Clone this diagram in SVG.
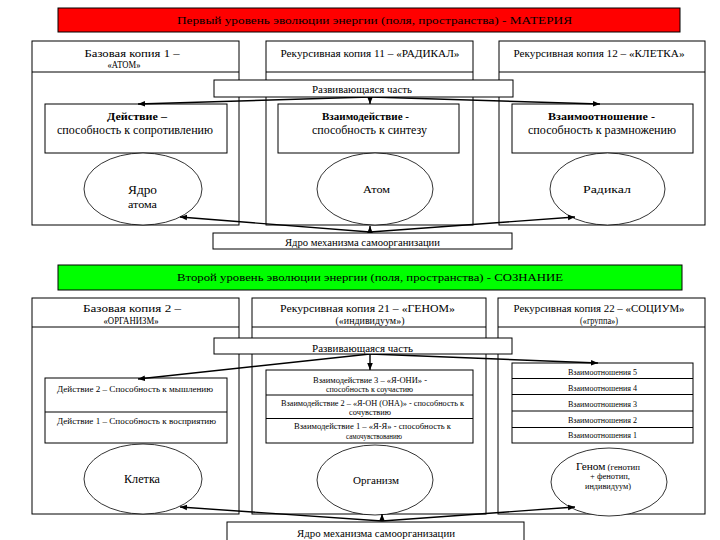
<svg xmlns="http://www.w3.org/2000/svg" width="720" height="540" viewBox="0 0 720 540">
<defs>
<marker id="ah" viewBox="0 0 10 10" refX="10" refY="5" markerWidth="7" markerHeight="7" orient="auto" markerUnits="userSpaceOnUse"><path d="M0,1 L10,5 L0,9 z" fill="#000"/></marker>
<style>
.bx{fill:#fff;stroke:#000;stroke-width:1}
.ln{fill:none;stroke:#000;stroke-width:1}
.el{fill:#fff;stroke:#000;stroke-width:0.8}
.t{font-family:"Liberation Serif","Times New Roman",serif;fill:#000;text-anchor:middle}
.b{font-weight:bold}
.cn{fill:none;stroke:#000;stroke-width:1.4}
</style>
</defs>
<rect width="720" height="540" fill="#fff"/>

<!-- Level 1 -->
<g id="title1">
<rect x="58" y="8" width="622" height="24" fill="#ff0000" stroke="#000" stroke-width="1"/>
<text class="t" x="374.5" y="24" font-size="11" textLength="395" lengthAdjust="spacingAndGlyphs">Первый уровень эволюции энергии (поля, пространства) - МАТЕРИЯ</text>
</g>
<g id="copy1">
<rect class="bx" x="32" y="41" width="207" height="184"/>
<line class="ln" x1="32" y1="72" x2="239" y2="72"/>
<text class="t" x="132" y="57" font-size="10" textLength="95" lengthAdjust="spacingAndGlyphs">Базовая копия 1 –</text>
<text class="t" x="124" y="68" font-size="10" textLength="33" lengthAdjust="spacingAndGlyphs">«АТОМ»</text>
</g>
<g id="copy11">
<rect class="bx" x="266" y="41" width="207" height="184"/>
<line class="ln" x1="266" y1="72" x2="473" y2="72"/>
<text class="t" x="370" y="57" font-size="10" textLength="179" lengthAdjust="spacingAndGlyphs">Рекурсивная копия 11 – «РАДИКАЛ»</text>
</g>
<g id="copy12">
<rect class="bx" x="499" y="41" width="206" height="184"/>
<line class="ln" x1="499" y1="72" x2="705" y2="72"/>
<text class="t" x="599" y="57" font-size="10" textLength="171" lengthAdjust="spacingAndGlyphs">Рекурсивная копия 12 – «КЛЕТКА»</text>
</g>
<g id="act1">
<rect class="bx" x="45" y="104" width="182" height="49"/>
<text class="t b" x="137" y="120" font-size="11" textLength="60" lengthAdjust="spacingAndGlyphs">Действие –</text>
<text class="t" x="135" y="134" font-size="11.5" textLength="156" lengthAdjust="spacingAndGlyphs">способность к сопротивлению</text>
</g>
<g id="act2">
<rect class="bx" x="278" y="104" width="181" height="49"/>
<text class="t b" x="365.5" y="120" font-size="11" textLength="87" lengthAdjust="spacingAndGlyphs">Взаимодействие -</text>
<text class="t" x="369.5" y="134" font-size="11.5" textLength="115" lengthAdjust="spacingAndGlyphs">способность к синтезу</text>
</g>
<g id="act3">
<rect class="bx" x="512" y="104" width="181" height="49"/>
<text class="t b" x="601.5" y="120" font-size="11" textLength="107" lengthAdjust="spacingAndGlyphs">Взаимоотношение -</text>
<text class="t" x="602" y="134" font-size="11.5" textLength="148" lengthAdjust="spacingAndGlyphs">способность к размножению</text>
</g>
<g id="nucleus">
<ellipse class="el" cx="143" cy="189" rx="59" ry="36"/>
<text class="t" x="142.5" y="194" font-size="13" textLength="29" lengthAdjust="spacingAndGlyphs">Ядро</text>
<text class="t" x="142.5" y="208" font-size="10.5" textLength="29" lengthAdjust="spacingAndGlyphs">атома</text>
</g>
<g id="atom">
<ellipse class="el" cx="375" cy="189" rx="58" ry="36"/>
<text class="t" x="376.5" y="193" font-size="11" textLength="27" lengthAdjust="spacingAndGlyphs">Атом</text>
</g>
<g id="radical">
<ellipse class="el" cx="607.5" cy="189" rx="57.5" ry="36"/>
<text class="t" x="607" y="193" font-size="11" textLength="48" lengthAdjust="spacingAndGlyphs">Радикал</text>
</g>

<!-- Level 2 -->
<g id="title2">
<rect x="58" y="265" width="624" height="25" fill="#00ff00" stroke="#000" stroke-width="1"/>
<text class="t" x="370" y="281" font-size="11" textLength="386" lengthAdjust="spacingAndGlyphs">Второй уровень эволюции энергии (поля, пространства) - СОЗНАНИЕ</text>
</g>
<g id="copy2">
<rect class="bx" x="32" y="298" width="207" height="216"/>
<line class="ln" x1="32" y1="327" x2="239" y2="327"/>
<text class="t" x="132" y="312" font-size="10" textLength="98" lengthAdjust="spacingAndGlyphs">Базовая копия 2 –</text>
<text class="t" x="131" y="324" font-size="10" textLength="55" lengthAdjust="spacingAndGlyphs">«ОРГАНИЗМ»</text>
</g>
<g id="copy21">
<rect class="bx" x="252" y="298" width="234" height="216"/>
<line class="ln" x1="252" y1="327" x2="486" y2="327"/>
<text class="t" x="367.5" y="312" font-size="10" textLength="175" lengthAdjust="spacingAndGlyphs">Рекурсивная копия 21 – «ГЕНОМ»</text>
<text class="t" x="370" y="324" font-size="10" textLength="69" lengthAdjust="spacingAndGlyphs">(«индивидуум»)</text>
</g>
<g id="copy22">
<rect class="bx" x="498" y="298" width="207" height="216"/>
<line class="ln" x1="498" y1="327" x2="705" y2="327"/>
<text class="t" x="599" y="312" font-size="10" textLength="171" lengthAdjust="spacingAndGlyphs">Рекурсивная копия 22 – «СОЦИУМ»</text>
<text class="t" x="599" y="324" font-size="10" textLength="38" lengthAdjust="spacingAndGlyphs">(«группа»)</text>
</g>
<g id="actions2">
<rect class="bx" x="45" y="378" width="182" height="65"/>
<line class="ln" x1="45" y1="412" x2="227" y2="412"/>
<text class="t" x="135" y="392" font-size="9" textLength="156" lengthAdjust="spacingAndGlyphs">Действие 2 – Способность к мышлению</text>
<text class="t" x="136.5" y="424" font-size="9" textLength="159" lengthAdjust="spacingAndGlyphs">Действие 1 – Способность к восприятию</text>
</g>
<g id="interactions2">
<rect class="bx" x="266" y="370" width="207" height="73"/>
<line class="ln" x1="266" y1="395" x2="473" y2="395"/>
<line class="ln" x1="266" y1="418.5" x2="473" y2="418.5"/>
<text class="t" x="370" y="382.5" font-size="7.5" textLength="114" lengthAdjust="spacingAndGlyphs">Взаимодействие 3 – «Я-ОНИ» -</text>
<text class="t" x="369.5" y="391.5" font-size="7.5" textLength="87" lengthAdjust="spacingAndGlyphs">способность к соучастию</text>
<text class="t" x="372.5" y="405.5" font-size="7.5" textLength="183" lengthAdjust="spacingAndGlyphs">Взаимодействие 2 – «Я-ОН (ОНА)» - способность к</text>
<text class="t" x="370" y="414.5" font-size="7.5" textLength="42" lengthAdjust="spacingAndGlyphs">сочувствию</text>
<text class="t" x="372.5" y="428.5" font-size="7.5" textLength="157" lengthAdjust="spacingAndGlyphs">Взаимодействие 1 – «Я-Я» - способность к</text>
<text class="t" x="374" y="438.5" font-size="7.5" textLength="56" lengthAdjust="spacingAndGlyphs">самочувствованию</text>
</g>
<g id="relations2">
<rect class="bx" x="512" y="363" width="181" height="80"/>
<line class="ln" x1="512" y1="378.5" x2="693" y2="378.5"/>
<line class="ln" x1="512" y1="394.5" x2="693" y2="394.5"/>
<line class="ln" x1="512" y1="411" x2="693" y2="411"/>
<line class="ln" x1="512" y1="427.5" x2="693" y2="427.5"/>
<text class="t" x="602.5" y="374.5" font-size="8" textLength="69" lengthAdjust="spacingAndGlyphs">Взаимоотношения 5</text>
<text class="t" x="602.5" y="390.5" font-size="8" textLength="69" lengthAdjust="spacingAndGlyphs">Взаимоотношения 4</text>
<text class="t" x="602.5" y="407" font-size="8" textLength="69" lengthAdjust="spacingAndGlyphs">Взаимоотношения 3</text>
<text class="t" x="602.5" y="422.5" font-size="8" textLength="69" lengthAdjust="spacingAndGlyphs">Взаимоотношения 2</text>
<text class="t" x="602.5" y="438" font-size="8" textLength="69" lengthAdjust="spacingAndGlyphs">Взаимоотношения 1</text>
</g>
<g id="cell">
<ellipse class="el" cx="143" cy="479" rx="59" ry="35"/>
<text class="t" x="142" y="483" font-size="13" textLength="36" lengthAdjust="spacingAndGlyphs">Клетка</text>
</g>
<g id="organism">
<ellipse class="el" cx="375" cy="480" rx="58" ry="35"/>
<text class="t" x="376" y="484" font-size="10.5" textLength="46" lengthAdjust="spacingAndGlyphs">Организм</text>
</g>
<g id="genome">
<ellipse class="el" cx="609" cy="482" rx="58" ry="34"/>
<text class="t" x="608" y="470" font-size="8.5" textLength="64" lengthAdjust="spacingAndGlyphs"><tspan font-size="11">Геном</tspan> (генотип</text>
<text class="t" x="610" y="479" font-size="8.5" textLength="40" lengthAdjust="spacingAndGlyphs">+ фенотип,</text>
<text class="t" x="608" y="489" font-size="8.5" textLength="46" lengthAdjust="spacingAndGlyphs">индивидуум)</text>
</g>

<!-- connectors -->
<g id="connectors">
<path class="cn" d="M370,97 L138,104" marker-end="url(#ah)"/>
<path class="cn" d="M370,97 L370,104" marker-end="url(#ah)"/>
<path class="cn" d="M370,97 L600,104" marker-end="url(#ah)"/>
<path class="cn" d="M370,232 L180,217" marker-end="url(#ah)"/>
<path class="cn" d="M370,232 L370,226" marker-end="url(#ah)"/>
<path class="cn" d="M370,232 L575,217" marker-end="url(#ah)"/>
<path class="cn" d="M370,354 L138,379" marker-end="url(#ah)"/>
<path class="cn" d="M370,354 L370,370" marker-end="url(#ah)"/>
<path class="cn" d="M370,354 L598,363" marker-end="url(#ah)"/>
<path class="cn" d="M382,521 L180,507" marker-end="url(#ah)"/>
<path class="cn" d="M382,521 L382,514" marker-end="url(#ah)"/>
<path class="cn" d="M382,521 L575,507" marker-end="url(#ah)"/>
</g>

<!-- bars -->
<g id="develop1">
<rect class="bx" x="214" y="80" width="299" height="17"/>
<text class="t" x="362" y="93" font-size="9.5" textLength="100" lengthAdjust="spacingAndGlyphs">Развивающаяся часть</text>
</g>
<g id="core1">
<rect class="bx" x="213" y="233" width="299" height="16"/>
<text class="t" x="362.5" y="246" font-size="9.5" textLength="155" lengthAdjust="spacingAndGlyphs">Ядро механизма самоорганизации</text>
</g>
<g id="develop2">
<rect class="bx" x="214" y="338" width="298" height="16"/>
<text class="t" x="362.5" y="351.5" font-size="9.5" textLength="101" lengthAdjust="spacingAndGlyphs">Развивающаяся часть</text>
</g>
<g id="core2">
<rect class="bx" x="227" y="522" width="297" height="30"/>
<text class="t" x="376" y="536.5" font-size="9.5" textLength="158" lengthAdjust="spacingAndGlyphs">Ядро механизма самоорганизации</text>
</g>
</svg>
